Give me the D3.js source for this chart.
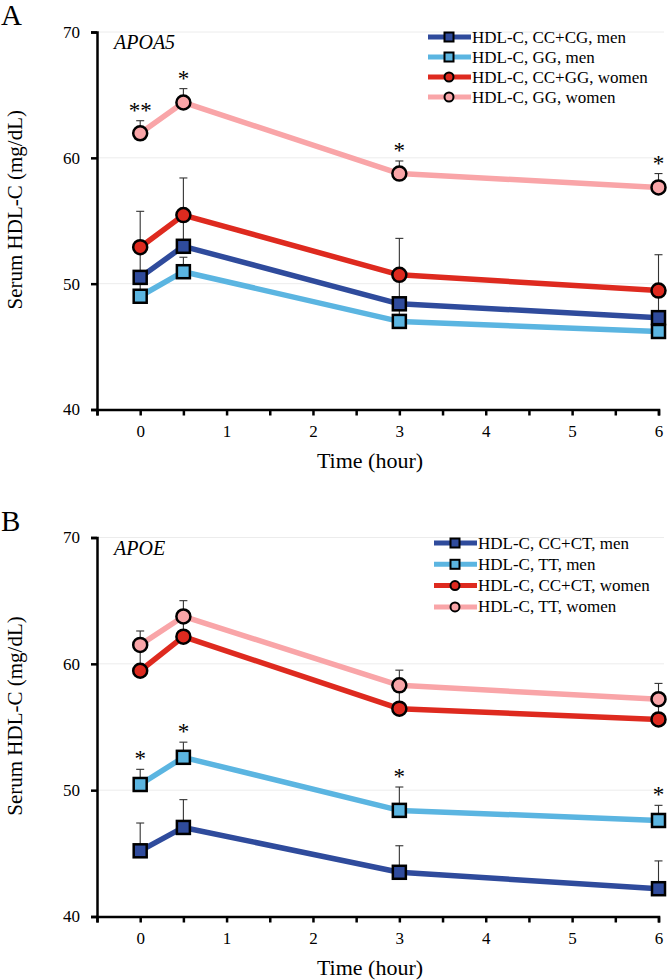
<!DOCTYPE html>
<html>
<head>
<meta charset="utf-8">
<script src="https://cdn.jsdelivr.net/npm/d3@7"></script>
<style>
  html, body { margin: 0; padding: 0; background: #fff; }
  svg { display: block; }
  text { font-family: "Liberation Serif", "Times New Roman", serif; fill: #000; }
</style>
</head>
<body>
<svg id="chart" width="669" height="980"></svg>
<script>
// ---------- data ----------
const times = [0, 0.5, 3, 6];
const xTickValues = [-0.5, 0, 0.5, 1, 1.5, 2, 2.5, 3, 3.5, 4, 4.5, 5, 5.5, 6];
const xTickLabels = [0, 1, 2, 3, 4, 5, 6];
const yTickValues = [40, 50, 60, 70];

const seriesColors = ["#2f4b9c", "#5bb5e1", "#de2a1f", "#f9a5a8"];
const seriesShapes = ["square", "square", "circle", "circle"];

// Panel A (APOA5)
const namesA = ["HDL-C, CC+CG, men", "HDL-C, GG, men", "HDL-C, CC+GG, women", "HDL-C, GG, women"];
const a_ccMen     = [50.5, 52.97, 48.4, 47.3];
const a_ccMenErr  = [2.3, 2.4, 2.3, 2.2];
const a_ggMen     = [49.0, 50.95, 47.0, 46.2];
const a_ggMenErr  = [1.5, 1.15, 1.4, 1.1];
const a_ccWomen   = [52.9, 55.45, 50.7, 49.45];
const a_ccWomenErr= [2.85, 2.95, 2.9, 2.85];
const a_ggWomen   = [61.95, 64.4, 58.75, 57.65];
const a_ggWomenErr= [1.0, 1.1, 1.0, 1.1];
const a_stars     = ["**", "*", "*", "*"];   // on HDL-C, GG, women

// Panel B (APOE)
const namesB = ["HDL-C, CC+CT, men", "HDL-C, TT, men", "HDL-C, CC+CT, women", "HDL-C, TT, women"];
const b_ccMen     = [45.2, 47.05, 43.5, 42.2];
const b_ccMenErr  = [2.2, 2.2, 2.1, 2.2];
const b_ttMen     = [50.45, 52.6, 48.4, 47.6];
const b_ttMenErr  = [1.2, 1.2, 1.85, 1.2];
const b_ccWomen   = [59.45, 62.15, 56.45, 55.6];
const b_ccWomenErr= [2.0, 1.6, 1.9, 1.6];
const b_ttWomen   = [61.5, 63.75, 58.3, 57.2];
const b_ttWomenErr= [1.1, 1.25, 1.2, 1.25];
const b_stars     = ["*", "*", "*", "*"];    // on HDL-C, TT, men

// ---------- drawing ----------
const svg = d3.select("#chart");

function panel(cfg) {
  const g = svg.append("g");
  const x = d3.scaleLinear().domain([-0.5, 6]).range([97, 658.5]);
  const y = d3.scaleLinear().domain([40, 70]).range([cfg.bottom, cfg.top]);

  // gridlines
  g.append("g").selectAll("line").data(yTickValues.filter(v => v > 40)).join("line")
    .attr("x1", x(-0.5)).attr("x2", 664)
    .attr("y1", d => y(d)).attr("y2", d => y(d))
    .attr("stroke", "#ececec").attr("stroke-width", 1);

  // y axis
  const yAxis = d3.axisLeft(y).tickValues(yTickValues).tickSize(6).tickPadding(11)
    .tickFormat(d3.format("d"));
  const ya = g.append("g").attr("transform", `translate(${x(-0.5)},0)`).call(yAxis);
  ya.attr("font-family", null);
  ya.select(".domain").attr("stroke", "#000").attr("stroke-width", 2.5);
  ya.selectAll(".tick line").attr("stroke", "#000").attr("stroke-width", 2.5);
  ya.selectAll(".tick text").attr("font-size", 17);

  // x axis
  const xAxis = d3.axisBottom(x).tickValues(xTickValues).tickSize(6).tickPadding(9)
    .tickFormat(d => xTickLabels.includes(d) ? d3.format("d")(d) : "");
  const xa = g.append("g").attr("transform", `translate(0,${y(40)})`).call(xAxis);
  xa.attr("font-family", null);
  xa.select(".domain").attr("stroke", "#000").attr("stroke-width", 2.5);
  xa.selectAll(".tick line").attr("stroke", "#000").attr("stroke-width", 2.5);
  xa.selectAll(".tick text").attr("font-size", 17);

  // axis titles
  g.append("text").attr("x", 370).attr("y", y(40) + 58.5)
    .attr("text-anchor", "middle").attr("font-size", 22).text("Time (hour)");
  g.append("text")
    .attr("transform", `translate(22,${(y(40) + y(70)) / 2 - 11}) rotate(-90)`)
    .attr("text-anchor", "middle").attr("font-size", 21).text("Serum HDL-C (mg/dL)");

  // panel label and gene
  g.append("text").attr("x", 1).attr("y", cfg.top - 7).attr("font-size", 29).text(cfg.label);
  g.append("text").attr("x", 114).attr("y", cfg.top + 17).attr("font-size", 20)
    .attr("font-style", "italic").text(cfg.gene);

  const series = cfg.values.map((vals, i) => ({
    name: cfg.names[i], color: seriesColors[i], shape: seriesShapes[i],
    pts: times.map((t, j) => ({ t, v: vals[j], e: cfg.errs[i][j] }))
  }));

  // error bars
  series.forEach(s => {
    const eb = g.append("g");
    eb.selectAll("line.v").data(s.pts).join("line").attr("class", "v")
      .attr("x1", d => x(d.t)).attr("x2", d => x(d.t))
      .attr("y1", d => y(d.v)).attr("y2", d => y(d.v + d.e))
      .attr("stroke", "#333").attr("stroke-width", 1.1);
    eb.selectAll("line.c").data(s.pts).join("line").attr("class", "c")
      .attr("x1", d => x(d.t) - 4).attr("x2", d => x(d.t) + 4)
      .attr("y1", d => y(d.v + d.e)).attr("y2", d => y(d.v + d.e))
      .attr("stroke", "#333").attr("stroke-width", 1.1);
  });

  const line = d3.line().x(d => x(d.t)).y(d => y(d.v));
  series.forEach(s => {
    g.append("path").datum(s.pts).attr("d", line)
      .attr("fill", "none").attr("stroke", s.color).attr("stroke-width", 5.5)
      .attr("stroke-linejoin", "round");
    const m = g.append("g");
    if (s.shape === "square") {
      m.selectAll("rect").data(s.pts).join("rect")
        .attr("x", d => x(d.t) - 6.5).attr("y", d => y(d.v) - 6.5)
        .attr("width", 13).attr("height", 13)
        .attr("fill", s.color).attr("stroke", "#000").attr("stroke-width", 2.5);
    } else {
      m.selectAll("circle").data(s.pts).join("circle")
        .attr("cx", d => x(d.t)).attr("cy", d => y(d.v)).attr("r", 7)
        .attr("fill", s.color).attr("stroke", "#000").attr("stroke-width", 2.5);
    }
  });

  // significance stars
  const ss = series[cfg.starSeries];
  g.append("g").selectAll("text").data(ss.pts).join("text")
    .attr("x", d => x(d.t)).attr("y", d => y(d.v + d.e) - 3)
    .attr("text-anchor", "middle").attr("font-size", 23)
    .text((d, j) => cfg.stars[j]);

  // legend
  const lg = g.append("g").attr("transform", `translate(${cfg.legX},${cfg.legY})`);
  series.forEach((s, i) => {
    const row = lg.append("g").attr("transform", `translate(0,${i * cfg.legStep})`);
    row.append("line").attr("x1", 0).attr("x2", 43).attr("y1", 0).attr("y2", 0)
      .attr("stroke", s.color).attr("stroke-width", 5);
    if (s.shape === "square") {
      row.append("rect").attr("x", 21 - 4.5).attr("y", -4.5).attr("width", 9).attr("height", 9)
        .attr("fill", s.color).attr("stroke", "#000").attr("stroke-width", 2);
    } else {
      row.append("circle").attr("cx", 21).attr("cy", 0).attr("r", 4.5)
        .attr("fill", s.color).attr("stroke", "#000").attr("stroke-width", 2);
    }
    row.append("text").attr("x", 44).attr("y", 5.5).attr("font-size", 17).text(s.name);
  });
}

panel({
  label: "A", gene: "APOA5", top: 32, bottom: 409.5,
  names: namesA,
  values: [a_ccMen, a_ggMen, a_ccWomen, a_ggWomen],
  errs: [a_ccMenErr, a_ggMenErr, a_ccWomenErr, a_ggWomenErr],
  starSeries: 3, stars: a_stars,
  legX: 428, legY: 37, legStep: 20
});

panel({
  label: "B", gene: "APOE", top: 537.5, bottom: 916.5,
  names: namesB,
  values: [b_ccMen, b_ttMen, b_ccWomen, b_ttWomen],
  errs: [b_ccMenErr, b_ttMenErr, b_ccWomenErr, b_ttWomenErr],
  starSeries: 1, stars: b_stars,
  legX: 434, legY: 543, legStep: 21.3
});
</script>
</body>
</html>
